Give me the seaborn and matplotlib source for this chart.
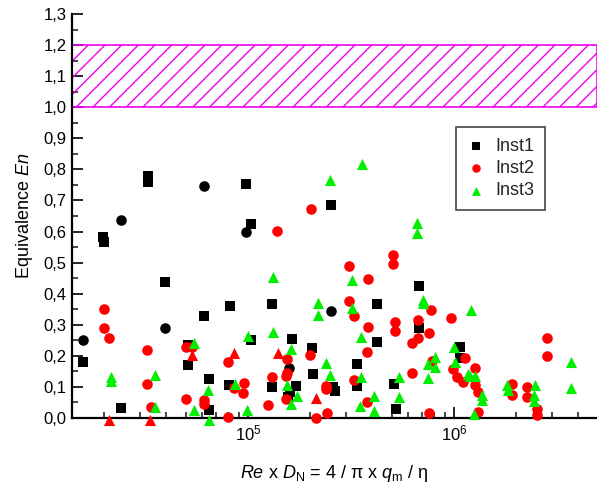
import numpy as np
import pandas as pd
import seaborn as sns
import matplotlib.pyplot as plt
from matplotlib.ticker import MultipleLocator, FuncFormatter, LogLocator

# log10(Re x D_N) and En values
inst1_logre = [4.515, 4.515, 4.295, 4.300, 4.596, 4.198, 4.383, 4.709, 4.707, 4.785,
               4.812, 4.812, 4.911, 4.910, 4.990, 5.015, 5.015, 5.115, 5.115, 5.215,
               5.233, 5.204, 5.196, 5.312, 5.314, 5.403, 5.411, 5.422, 5.528, 5.528,
               5.625, 5.625, 5.710, 5.717, 5.828, 5.832, 6.027, 6.027]
inst1_en = [0.78, 0.76, 0.583, 0.567, 0.438, 0.180, 0.032, 0.234, 0.172, 0.329,
            0.127, 0.025, 0.360, 0.105, 0.754, 0.624, 0.252, 0.367, 0.101, 0.253,
            0.102, 0.084, 0.068, 0.225, 0.140, 0.687, 0.100, 0.086, 0.175, 0.103,
            0.366, 0.245, 0.109, 0.030, 0.424, 0.288, 0.229, 0.193]

inst1b_logre = [4.198, 4.385, 4.596, 4.785, 4.990, 5.200, 5.403]
inst1b_en = [0.250, 0.637, 0.288, 0.747, 0.599, 0.162, 0.344]

inst2_logre = [4.300, 4.300, 4.327, 4.511, 4.511, 4.529, 4.699, 4.728, 4.699, 4.786,
               4.786, 4.904, 4.904, 4.933, 4.979, 4.977, 5.142, 5.118, 5.099, 5.191,
               5.191, 5.184, 5.184, 5.304, 5.301, 5.379, 5.379, 5.330, 5.383, 5.490,
               5.490, 5.515, 5.515, 5.584, 5.584, 5.580, 5.579, 5.704, 5.704, 5.715,
               5.715, 5.827, 5.827, 5.795, 5.798, 5.880, 5.888, 5.893, 5.879, 5.985,
               5.995, 6.015, 6.046, 6.053, 6.104, 6.102, 6.115, 6.115, 6.280, 6.280,
               6.352, 6.352, 6.403, 6.401, 6.449, 6.449]
inst2_en = [0.350, 0.288, 0.258, 0.218, 0.109, 0.036, 0.229, 0.229, 0.060, 0.059,
            0.045, 0.181, 0.003, 0.096, 0.114, 0.082, 0.601, 0.133, 0.043, 0.191,
            0.145, 0.135, 0.062, 0.674, 0.202, 0.103, 0.092, 0.000, 0.015, 0.489,
            0.376, 0.328, 0.121, 0.447, 0.293, 0.213, 0.052, 0.526, 0.497, 0.309,
            0.280, 0.315, 0.258, 0.242, 0.146, 0.275, 0.347, 0.182, 0.016, 0.323,
            0.157, 0.132, 0.115, 0.193, 0.161, 0.107, 0.083, 0.019, 0.108, 0.075,
            0.101, 0.068, 0.030, 0.009, 0.259, 0.200]

inst2b_logre = [4.324, 4.526, 4.726, 4.933, 5.144, 5.330]
inst2b_en = [-0.008, -0.008, 0.202, 0.210, 0.208, 0.064]

inst3_logre = [4.335, 4.335, 4.547, 4.550, 4.736, 4.739, 4.806, 4.813, 4.937, 4.994,
               4.999, 5.123, 5.123, 5.207, 5.191, 5.236, 5.207, 5.340, 5.341, 5.377,
               5.398, 5.398, 5.552, 5.503, 5.503, 5.549, 5.549, 5.546, 5.613, 5.613,
               5.735, 5.734, 5.819, 5.822, 5.848, 5.851, 5.875, 5.875, 5.909, 5.909,
               6.000, 6.005, 6.066, 6.081, 6.078, 6.100, 6.134, 6.134, 6.097, 6.256,
               6.260, 6.393, 6.388, 6.388, 6.568, 6.570]
inst3_en = [0.132, 0.118, 0.138, 0.036, 0.240, 0.025, 0.090, -0.005, 0.108, 0.026,
            0.263, 0.453, 0.278, 0.223, 0.107, 0.070, 0.046, 0.369, 0.330, 0.178,
            0.138, 0.766, 0.817, 0.443, 0.354, 0.260, 0.132, 0.039, 0.070, 0.023,
            0.132, 0.068, 0.626, 0.594, 0.381, 0.370, 0.130, 0.175, 0.196, 0.164,
            0.228, 0.180, 0.142, 0.347, 0.136, 0.136, 0.073, 0.058, 0.014, 0.107,
            0.091, 0.105, 0.073, 0.054, 0.180, 0.095]

sns.set_theme(style="ticks")
plt.rcParams['font.family'] = ['Liberation Sans', 'DejaVu Sans']
plt.rcParams['mathtext.fontset'] = 'custom'
plt.rcParams['mathtext.rm'] = 'Liberation Sans'
plt.rcParams['mathtext.it'] = 'Liberation Sans:italic'
plt.rcParams['hatch.linewidth'] = 1.0

fig = plt.figure(figsize=(5.97, 4.88), dpi=100)
ax = fig.add_axes([72 / 597, 70 / 488, 525 / 597, 404 / 488])

# reference band
ax.axhspan(1.0, 1.2, facecolor='none', edgecolor='#f000f0', hatch='//', lw=1.2, zorder=1)

series = [
    ("Inst1", inst1_logre, inst1_en, "s", "black", 46),
    ("_b1", inst1b_logre, inst1b_en, "o", "black", 58),
    ("Inst2", inst2_logre, inst2_en, "o", "#ff0000", 58),
    ("_b2", inst2b_logre, inst2b_en, "^", "#ff0000", 64),
    ("Inst3", inst3_logre, inst3_en, "^", "#00ee00", 64),
]
for name, lre, en, marker, color, size in series:
    df = pd.DataFrame({"Re": 10 ** np.array(lre), "En": en})
    sns.scatterplot(data=df, x="Re", y="En", marker=marker, color=color, s=size,
                    linewidth=0, ax=ax, label=name, clip_on=False, zorder=3, legend=False)

ax.set_xscale('log')
ax.set_xlim(10 ** 4.146, 10 ** 6.694)
ax.set_ylim(0, 1.3)

ax.yaxis.set_major_locator(MultipleLocator(0.1))
ax.yaxis.set_minor_locator(MultipleLocator(0.05))
ax.yaxis.set_major_formatter(FuncFormatter(lambda v, p: f"{v:.1f}".replace('.', ',')))
ax.xaxis.set_major_locator(LogLocator(base=10))
ax.xaxis.set_minor_locator(LogLocator(base=10, subs=np.arange(2, 10)))

ax.tick_params(which='major', direction='in', length=8, width=1.2, labelsize=12,
               colors='black', pad=4)
ax.tick_params(which='minor', direction='in', length=4, width=1.2)
for s in ['top', 'right']:
    ax.spines[s].set_visible(False)
for s in ['left', 'bottom']:
    ax.spines[s].set_linewidth(1.6)
    ax.spines[s].set_color('black')

ax.set_ylabel("Equivalence $En$", fontsize=13, color='black', labelpad=6)
ax.set_xlabel(r"$Re$ x $D_{\mathrm{N}}$ = 4 / π x $q_{\mathrm{m}}$ / η", fontsize=13,
              color='black', labelpad=14)

handles, labels = ax.get_legend_handles_labels()
keep = [(h, l) for h, l in zip(handles, labels) if l.startswith("Inst")]
leg = ax.legend([h for h, l in keep], [l for h, l in keep], loc='upper left',
                bbox_to_anchor=(0.731, 0.721), borderaxespad=0, fontsize=13,
                frameon=True, fancybox=False, framealpha=1, edgecolor='#444444',
                handlelength=1.0, handletextpad=0.6, borderpad=0.6, labelspacing=0.3,
                markerscale=0.8)
leg.get_frame().set_linewidth(1.2)

fig.savefig("out.png", dpi=100)
